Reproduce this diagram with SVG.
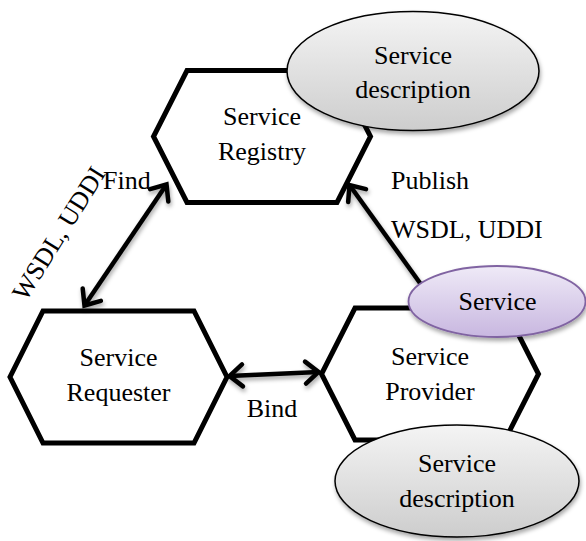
<svg xmlns="http://www.w3.org/2000/svg" width="586" height="541" viewBox="0 0 586 541">
<style>
.hex{fill:#ffffff;stroke:#000000;stroke-width:5;stroke-linejoin:miter}
text{font-family:'Liberation Serif','Times New Roman','DejaVu Serif',serif;font-size:26px;fill:#000000}
.m{text-anchor:middle}
.conn{stroke:#000000;stroke-width:4.5;fill:none}
.grey{fill:url(#gGrey);stroke:#000000;stroke-width:1.5}
.purp{fill:url(#gPurp);stroke:#8064a2;stroke-width:1.8}
</style>
<defs>
<linearGradient id="gGrey" x1="0" y1="0" x2="0" y2="1">
<stop offset="0" stop-color="#f4f4f4"/>
<stop offset="1" stop-color="#cdcdcd"/>
</linearGradient>
<linearGradient id="gPurp" x1="0" y1="0" x2="0" y2="1">
<stop offset="0" stop-color="#efeaf7"/>
<stop offset="1" stop-color="#c8b7e0"/>
</linearGradient>
<filter id="sh" x="-20%" y="-20%" width="140%" height="150%">
<feDropShadow dx="1" dy="3" stdDeviation="2" flood-color="#000000" flood-opacity="0.35"/>
</filter>
<marker id="arr" markerUnits="userSpaceOnUse" viewBox="-20 -15 26 30" refX="0" refY="0" markerWidth="26" markerHeight="30" orient="auto-start-reverse">
<path d="M -13 -11 L 0 0 L -13 11" fill="none" stroke="#000000" stroke-width="4.5" stroke-linecap="round" stroke-linejoin="miter"/>
</marker>
</defs>
<rect width="586" height="541" fill="#ffffff"/>

<g id="registry">
<polygon class="hex" points="187,70.5 337,70.5 370.5,136.5 337,202.5 187,202.5 153.5,136.5"/>
<text class="m" x="262" y="125" font-family="Liberation Serif, serif">Service</text>
<text class="m" x="262" y="160" font-family="Liberation Serif, serif">Registry</text>
</g>
<g id="requester">
<polygon class="hex" points="43,311 194,311 227,377 194,443 43,443 10,377"/>
<text class="m" x="118.5" y="366" font-family="Liberation Serif, serif">Service</text>
<text class="m" x="118.5" y="401" font-family="Liberation Serif, serif">Requester</text>
</g>
<g id="provider">
<polygon class="hex" points="355,308 505,308 538.5,374 505,440 355,440 321.5,374"/>
<text class="m" x="430" y="365" font-family="Liberation Serif, serif">Service</text>
<text class="m" x="430" y="400" font-family="Liberation Serif, serif">Provider</text>
</g>

<g id="connectors" filter="url(#sh)">
<line class="conn" x1="84.5" y1="305.5" x2="166.5" y2="184.5" marker-start="url(#arr)" marker-end="url(#arr)"/>
<line class="conn" x1="425" y1="290" x2="349.5" y2="185" marker-end="url(#arr)"/>
<line class="conn" x1="229.5" y1="376" x2="318.5" y2="372" marker-start="url(#arr)" marker-end="url(#arr)"/>
</g>

<g id="labels">
<text x="103" y="189" font-family="Liberation Serif, serif">Find</text>
<text class="m" transform="translate(66,238) rotate(-58)" x="0" y="0" font-family="Liberation Serif, serif">WSDL, UDDI</text>
<text x="391" y="189" font-family="Liberation Serif, serif">Publish</text>
<text x="391" y="238" font-family="Liberation Serif, serif">WSDL, UDDI</text>
<text class="m" x="272" y="417" font-family="Liberation Serif, serif">Bind</text>
</g>

<g id="registry-description">
<ellipse class="grey" cx="413" cy="71" rx="126" ry="59.5" filter="url(#sh)"/>
<text class="m" x="413" y="64" font-family="Liberation Serif, serif">Service</text>
<text class="m" x="413" y="98" font-family="Liberation Serif, serif">description</text>
</g>
<g id="service">
<ellipse class="purp" cx="497" cy="301.5" rx="88.5" ry="35.5" filter="url(#sh)"/>
<text class="m" x="497.5" y="310" font-family="Liberation Serif, serif">Service</text>
</g>
<g id="provider-description">
<ellipse class="grey" cx="457" cy="481" rx="122" ry="56" filter="url(#sh)"/>
<text class="m" x="457" y="472" font-family="Liberation Serif, serif">Service</text>
<text class="m" x="457" y="507" font-family="Liberation Serif, serif">description</text>
</g>
</svg>
